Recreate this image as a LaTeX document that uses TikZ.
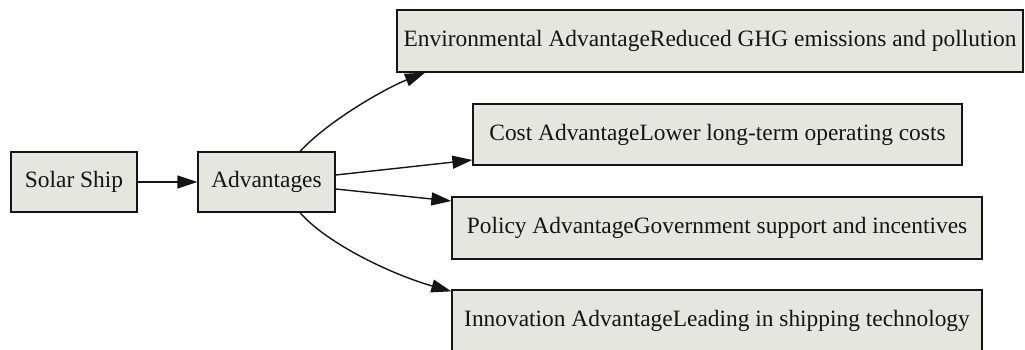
\documentclass[tikz,border=0pt]{standalone}
\usepackage{fontspec}
\setmainfont{Liberation Serif}
\usetikzlibrary{arrows.meta}
\definecolor{boxfill}{RGB}{230,230,224}
\definecolor{ink}{RGB}{20,20,20}
\begin{document}
\begin{tikzpicture}[x=1pt,y=-1pt,
  box/.style={draw=ink, fill=boxfill, line width=1.3pt, inner sep=0pt,
    font=\fontsize{23.4}{28}\selectfont, text=ink},
  edge/.style={draw=ink, line width=1.4pt,
    -{Triangle[length=20pt,width=13pt]}}]
  \useasboundingbox (0,0) rectangle (1025,349);

  % nodes, sized as boxes
  \node[box, minimum width=126pt, minimum height=60pt] (sol) at (74,182) {Solar Ship};
  \node[box, minimum width=137pt, minimum height=60pt] (adv) at (266.5,182) {Advantages};
  \node[box, minimum width=626pt, minimum height=62pt] (env) at (710,41)
    {Environmental AdvantageReduced GHG emissions and pollution};
  \node[box, minimum width=489pt, minimum height=61pt] (cost) at (717.5,134.5)
    {Cost AdvantageLower long-term operating costs};
  \node[box, minimum width=530pt, minimum height=62pt] (pol) at (717,228)
    {Policy AdvantageGovernment support and incentives};
  \node[box, minimum width=530pt, minimum height=62pt] (inn) at (717,321)
    {Innovation AdvantageLeading in shipping technology};

  % connectors
  \draw[edge] (sol.east) -- (adv.west);
  \draw[edge] ([xshift=33.5pt]adv.north) .. controls +(30,-32) and +(-38,15) .. ([xshift=-285pt]env.south);
  \draw[edge] ([yshift=7pt]adv.east) -- ([yshift=-25.5pt]cost.west);
  \draw[edge] ([yshift=-7pt]adv.east) -- ([yshift=27pt]pol.west);
  \draw[edge] ([xshift=33.5pt]adv.south) .. controls +(28,32) and +(-57,-16) .. ([yshift=-2pt]inn.north west);
\end{tikzpicture}
\end{document}
